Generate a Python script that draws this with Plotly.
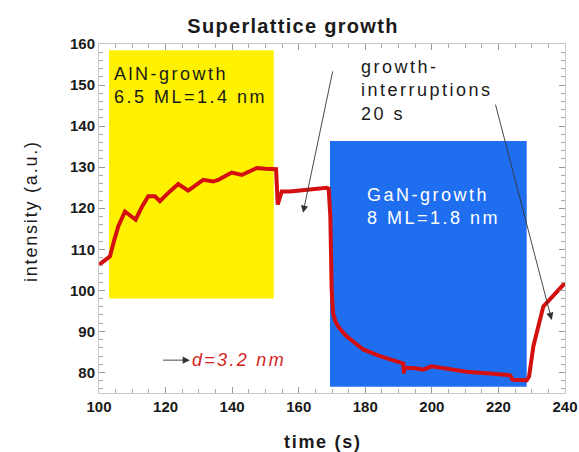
import plotly.graph_objects as go

# RHEED intensity trace during superlattice growth
time_s = [100, 101.5, 102.3, 103.3, 104.5, 105.8, 107.8, 109.5, 111, 113, 114.8,
          116.8, 118.3, 120.5, 123.8, 126.8, 129, 131.3, 134.3, 135.8, 137.8,
          139.9, 142.9, 145, 147.4, 150, 152.4, 153.2, 153.7, 154.9, 157.4, 160,
          163, 166, 168.4, 169.0, 169.5, 169.9, 170.3, 171.0, 172.0, 174.4,
          179.4, 184.4, 188, 191.4, 191.6, 191.8, 195, 197.4, 199.9, 204.4,
          210.4, 218.4, 223.5, 224.3, 228.5, 229.2, 230.5, 233.5, 236.5, 240]
intensity = [106.2, 107.2, 107.9, 108.3, 112, 115.6, 119.2, 118.0, 117.2, 120.5,
             122.9, 122.9, 121.7, 123.5, 125.9, 124.3, 125.5, 126.9, 126.5, 126.9,
             127.8, 128.7, 128.1, 128.8, 129.8, 129.6, 129.5, 129.5, 120.9, 124.1,
             124.1, 124.3, 124.6, 124.9, 125.0, 124.8, 118, 100, 94.5, 92.5, 91.0,
             88.8, 85.6, 84.0, 83.0, 82.2, 79.8, 81.2, 81.0, 80.7, 81.5, 80.9,
             80.2, 79.7, 79.3, 78.2, 78.1, 79.0, 86.4, 96.1, 98.6, 101.8]

# growth phases: [x0, x1, y0, y1]
aln_phase = [103, 152.5, 98.0, 158.5]
gan_phase = [169.4, 228.5, 76.5, 136.4]

x_ticks = [100, 120, 140, 160, 180, 200, 220, 240]
y_ticks = [80, 90, 100, 110, 120, 130, 140, 150, 160]

FONT = "Liberation Sans, Arial, sans-serif"

# plot area in pixels
PL, PR, PT, PB = 99, 565, 44, 393


def spaced(text, px=2.5):
    # widen the tracking of a label
    return f'<span style="letter-spacing:{px}px">{text}</span>'


fig = go.Figure()
fig.add_trace(go.Scatter(x=time_s, y=intensity, mode="lines",
                         line=dict(color="#d40f0f", width=4),
                         showlegend=False, hoverinfo="skip"))

fig.add_shape(type="rect", layer="below", xref="x", yref="y",
              x0=aln_phase[0], x1=aln_phase[1], y0=aln_phase[2], y1=aln_phase[3],
              fillcolor="#fff200", line=dict(width=0))
fig.add_shape(type="rect", layer="below", xref="x", yref="y",
              x0=gan_phase[0], x1=gan_phase[1], y0=gan_phase[2], y1=gan_phase[3],
              fillcolor="#1f6ef0", line=dict(width=0))

txt = dict(family=FONT, size=18, color="#1a1a1a")
fig.add_annotation(x=104.0, y=150.0, xref="x", yref="y", xanchor="left",
                   yanchor="middle", showarrow=False, align="left",
                   text=spaced("AlN-growth") + "<br>" + spaced("6.5 ML=1.4 nm"),
                   font=txt)
fig.add_annotation(x=178.2, y=148.6, xref="x", yref="y", xanchor="left",
                   yanchor="middle", showarrow=False, align="left",
                   text=spaced("growth-") + "<br>" + spaced("interruptions")
                   + "<br>" + spaced("20 s"), font=txt)
fig.add_annotation(x=180.0, y=120.4, xref="x", yref="y", xanchor="left",
                   yanchor="middle", showarrow=False, align="left",
                   text=spaced("GaN-growth") + "<br>" + spaced("8 ML=1.8 nm"),
                   font=dict(family=FONT, size=18, color="white"))
fig.add_annotation(x=127.4, y=83.0, xref="x", yref="y", xanchor="left",
                   yanchor="middle", showarrow=False,
                   text="<i>" + spaced("d=3.2 nm", 2.3) + "</i>",
                   font=dict(family=FONT, size=18, color="#d41f1f"))

# pointer arrows
arrow_style = dict(showarrow=True, arrowhead=2, arrowsize=1.6, arrowwidth=0.9,
                   arrowcolor="#333333", xref="x", yref="y", axref="x", ayref="y",
                   text="")
fig.add_annotation(x=161.3, y=118.9, ax=170.3, ay=153.7, **arrow_style)
fig.add_annotation(x=236.0, y=92.8, ax=219.0, ay=145.6, **arrow_style)
fig.add_annotation(x=127.3, y=83.0, ax=118.8, ay=83.0, **arrow_style)

# axis titles placed as free text beside the axes
fig.add_annotation(xref="x domain", yref="y domain",
                   x=(31 - PL) / (PR - PL), y=(PB - 211) / (PB - PT),
                   xanchor="center", yanchor="middle",
                   text=spaced("intensity (a.u.)", 1.8), textangle=-90,
                   showarrow=False,
                   font=dict(family=FONT, size=18, color="#1a1a1a"))
fig.add_annotation(xref="x domain", yref="y domain",
                   x=(323 - PL) / (PR - PL), y=(PB - 442) / (PB - PT),
                   xanchor="center", yanchor="middle",
                   text="<b>" + spaced("time (s)", 1.7) + "</b>",
                   showarrow=False,
                   font=dict(family=FONT, size=18, color="#1a1a1a"))

axis_common = dict(showline=True, linecolor="#c8c8c8", linewidth=1,
                   mirror="ticks", ticks="inside", tickcolor="#999999",
                   ticklen=6, showgrid=False, zeroline=False, automargin=False,
                   tickfont=dict(family=FONT, size=15, color="#1a1a1a",
                                 weight="bold"))

fig.update_xaxes(range=[100, 240], tickvals=x_ticks,
                 minor=dict(dtick=5, tick0=100, ticks="inside", ticklen=4,
                            tickcolor="#aaaaaa"),
                 **axis_common)
fig.update_yaxes(range=[75, 160], tickvals=y_ticks,
                 minor=dict(dtick=2, tick0=80, ticks="inside", ticklen=4,
                            tickcolor="#aaaaaa"),
                 **axis_common)

fig.update_layout(
    width=579, height=452,
    margin=dict(l=PL, r=579 - PR, t=PT, b=452 - PB),
    paper_bgcolor="white", plot_bgcolor="white",
    title=dict(text="<b>" + spaced("Superlattice growth", 1.3) + "</b>",
               x=293 / 579, xref="container",
               y=1 - 26 / 452, yref="container", xanchor="center",
               yanchor="middle",
               font=dict(family=FONT, size=20, color="#1a1a1a")),
)

fig.write_html("out.html")
